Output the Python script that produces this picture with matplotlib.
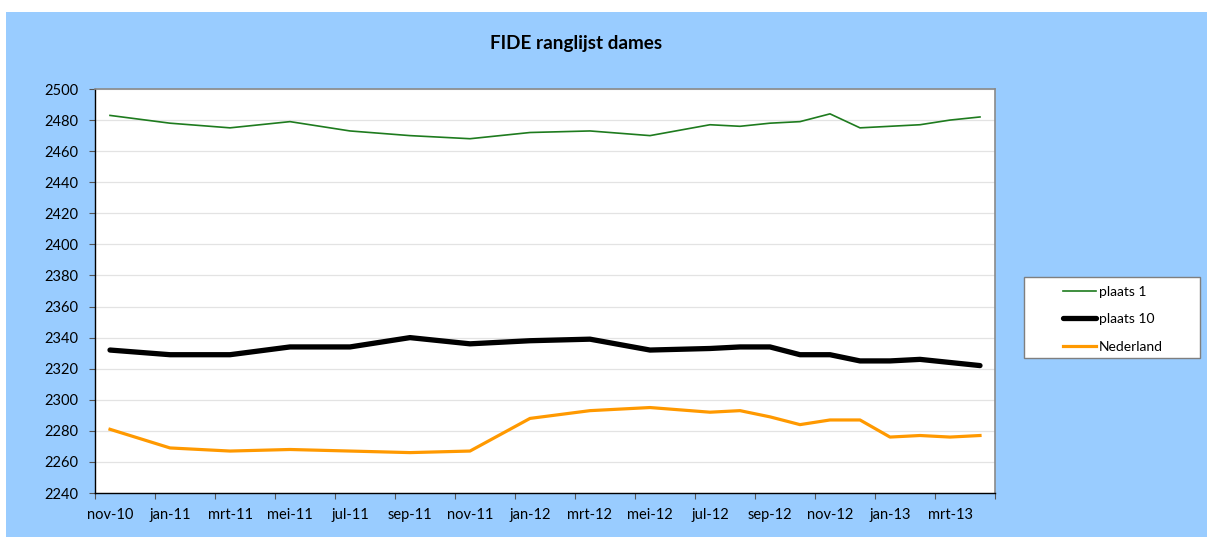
import matplotlib
matplotlib.use("Agg")
import matplotlib.pyplot as plt
from matplotlib.patches import Rectangle

plt.rcParams['font.family'] = ['Lato', 'DejaVu Sans']

# months of the FIDE lists (year, month)
dates = [(2010, 11), (2011, 1), (2011, 3), (2011, 5), (2011, 7), (2011, 9), (2011, 11),
         (2012, 1), (2012, 3), (2012, 5), (2012, 7), (2012, 8), (2012, 9), (2012, 10),
         (2012, 11), (2012, 12), (2013, 1), (2013, 2), (2013, 3), (2013, 4)]
plaats1 = [2483, 2478, 2475, 2479, 2473, 2470, 2468, 2472, 2473, 2470,
           2477, 2476, 2478, 2479, 2484, 2475, 2476, 2477, 2480, 2482]
plaats10 = [2332, 2329, 2329, 2334, 2334, 2340, 2336, 2338, 2339, 2332,
            2333, 2334, 2334, 2329, 2329, 2325, 2325, 2326, 2324, 2322]
nederland = [2281, 2269, 2267, 2268, 2267, 2266, 2267, 2288, 2293, 2295,
             2292, 2293, 2289, 2284, 2287, 2287, 2276, 2277, 2276, 2277]
tick_labels = ['nov-10', 'jan-11', 'mrt-11', 'mei-11', 'jul-11', 'sep-11', 'nov-11',
               'jan-12', 'mrt-12', 'mei-12', 'jul-12', 'sep-12', 'nov-12', 'jan-13', 'mrt-13']
title = 'FIDE ranglijst dames'

start = (2010, 11)
def midx(d):
    return (d[0] - start[0]) * 12 + (d[1] - start[1])

x = [midx(d) + 0.5 for d in dates]
n_months = midx((2013, 4)) + 1

W, H = 1207, 537
fig = plt.figure(figsize=(W / 100, H / 100), dpi=100)
fig.patch.set_facecolor('white')
fig.patches.append(Rectangle((6 / W, 0), 1 - 6 / W, 1 - 12 / H, transform=fig.transFigure,
                             facecolor='#99CCFF', edgecolor='none', zorder=-10))
# legend box
fig.patches.append(Rectangle((1024 / W, 1 - 358 / H), 176 / W, 81 / H,
                             transform=fig.transFigure, facecolor='white',
                             edgecolor='#7F7F7F', lw=1.0, zorder=-5))

ax = fig.add_axes([95 / W, 1 - 493 / H, 900 / W, 404 / H])
ax.set_facecolor('white')

ax.plot(x, plaats1, color='#1E7B1E', lw=1.2, label='plaats 1', solid_joinstyle='round')
ax.plot(x, plaats10, color='black', lw=3.8, label='plaats 10', solid_joinstyle='round',
        solid_capstyle='round')
ax.plot(x, nederland, color='#FF9900', lw=2.3, label='Nederland', solid_joinstyle='round')

ax.set_xlim(0, n_months)
ax.set_ylim(2240, 2500)
ax.set_yticks(range(2240, 2501, 20))
ax.grid(axis='y', color='#E3E3E3', lw=0.9)
ax.set_axisbelow(True)

ax.set_xticks(range(0, n_months + 1, 2))
ax.set_xticklabels([])
ax.set_xticks([i * 2 + 0.5 for i in range(len(tick_labels))], minor=True)
ax.set_xticklabels(tick_labels, minor=True)
ax.tick_params(axis='x', which='major', direction='out', length=4, width=0.8, color='#555555')
ax.tick_params(axis='x', which='minor', length=0, pad=11, labelsize=10.5)
ax.tick_params(axis='y', direction='out', length=4, width=0.8, pad=8, labelsize=10.5,
               color='#555555')

for s in ['left', 'bottom']:
    ax.spines[s].set_color('black')
    ax.spines[s].set_linewidth(1.0)
for s in ['top', 'right']:
    ax.spines[s].set_color('#8A8A8A')
    ax.spines[s].set_linewidth(1.2)

fig.text(576 / W, 1 - 44 / H, title, ha='center', va='center', fontsize=13.6,
         fontweight='bold')

leg = fig.legend(loc='upper left', bbox_to_anchor=(1063 / W, 1 - 286 / H),
                 bbox_transform=fig.transFigure, fontsize=10, frameon=False,
                 handlelength=2.4, handletextpad=0.2, labelspacing=1.1,
                 borderpad=0, borderaxespad=0)

fig.savefig('out.png', dpi=100, facecolor=fig.get_facecolor())
